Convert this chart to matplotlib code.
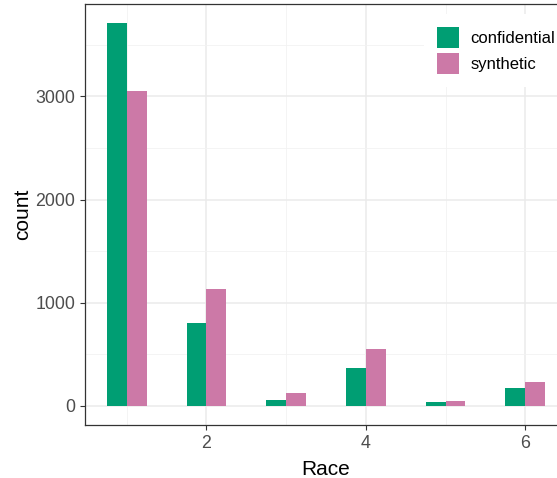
import matplotlib
matplotlib.use("Agg")
import matplotlib.pyplot as plt
import numpy as np
from matplotlib.patches import Patch
from matplotlib.ticker import FixedLocator

plt.rcParams['font.family'] = ['Liberation Sans', 'DejaVu Sans']

race = [1, 2, 3, 4, 5, 6]
confidential = [3710, 805, 52, 366, 40, 175]
synthetic = [3055, 1136, 123, 553, 51, 230]
series_names = ['confidential', 'synthetic']
colors = ['#009E73', '#CC79A7']
x_ticks = [2, 4, 6]
y_ticks = [0, 1000, 2000, 3000]

W, H = 557, 478
fig = plt.figure(figsize=(W / 100, H / 100), dpi=100)
ax = fig.add_axes([85 / W, 1 - 425 / H, (567 - 85) / W, (425 - 4) / H])

x = np.array(race, dtype=float)
bw = 0.25
ax.bar(x - bw / 2, confidential, width=bw, color=colors[0], zorder=3, linewidth=0)
ax.bar(x + bw / 2, synthetic, width=bw, color=colors[1], zorder=3, linewidth=0)

ymax = max(max(confidential), max(synthetic))
ax.set_ylim(-0.05 * ymax, 1.05 * ymax)
ax.set_xlim(0.75 - 0.05 * 5.5, 6.25 + 0.05 * 5.5)

ax.xaxis.set_major_locator(FixedLocator(x_ticks))
ax.xaxis.set_minor_locator(FixedLocator([1, 3, 5]))
ax.yaxis.set_major_locator(FixedLocator(y_ticks))
ax.yaxis.set_minor_locator(FixedLocator([500, 1500, 2500, 3500]))
ax.set_xticklabels([str(v) for v in x_ticks])
ax.set_yticklabels([str(v) for v in y_ticks])

ax.grid(which='major', color='#EBEBEB', linewidth=1.1, zorder=0)
ax.grid(which='minor', color='#F2F2F2', linewidth=0.6, zorder=0)
ax.set_axisbelow(True)

ax.tick_params(which='major', length=3.6, width=0.8, color='#333333',
               labelsize=12.8, labelcolor='#4D4D4D', pad=3.5)
ax.tick_params(which='minor', length=0)
for s in ax.spines.values():
    s.set_color('#333333')
    s.set_linewidth(0.9)

ax.set_xlabel('Race', fontsize=15, color='black', labelpad=6)
ax.set_ylabel('count', fontsize=15, color='black', labelpad=2)

handles = [Patch(facecolor=c, edgecolor='none') for c in colors]
leg = ax.legend(handles, series_names, loc='upper left',
                bbox_to_anchor=(424 / W, 1 - 14 / H), bbox_transform=fig.transFigure,
                fontsize=12, frameon=True, fancybox=False, framealpha=1,
                facecolor='white', edgecolor='none',
                handlelength=1.32, handleheight=1.6, labelspacing=0.3,
                handletextpad=0.7, borderpad=0.75, borderaxespad=0)
leg.set_zorder(5)

fig.savefig('out.png', dpi=100)
